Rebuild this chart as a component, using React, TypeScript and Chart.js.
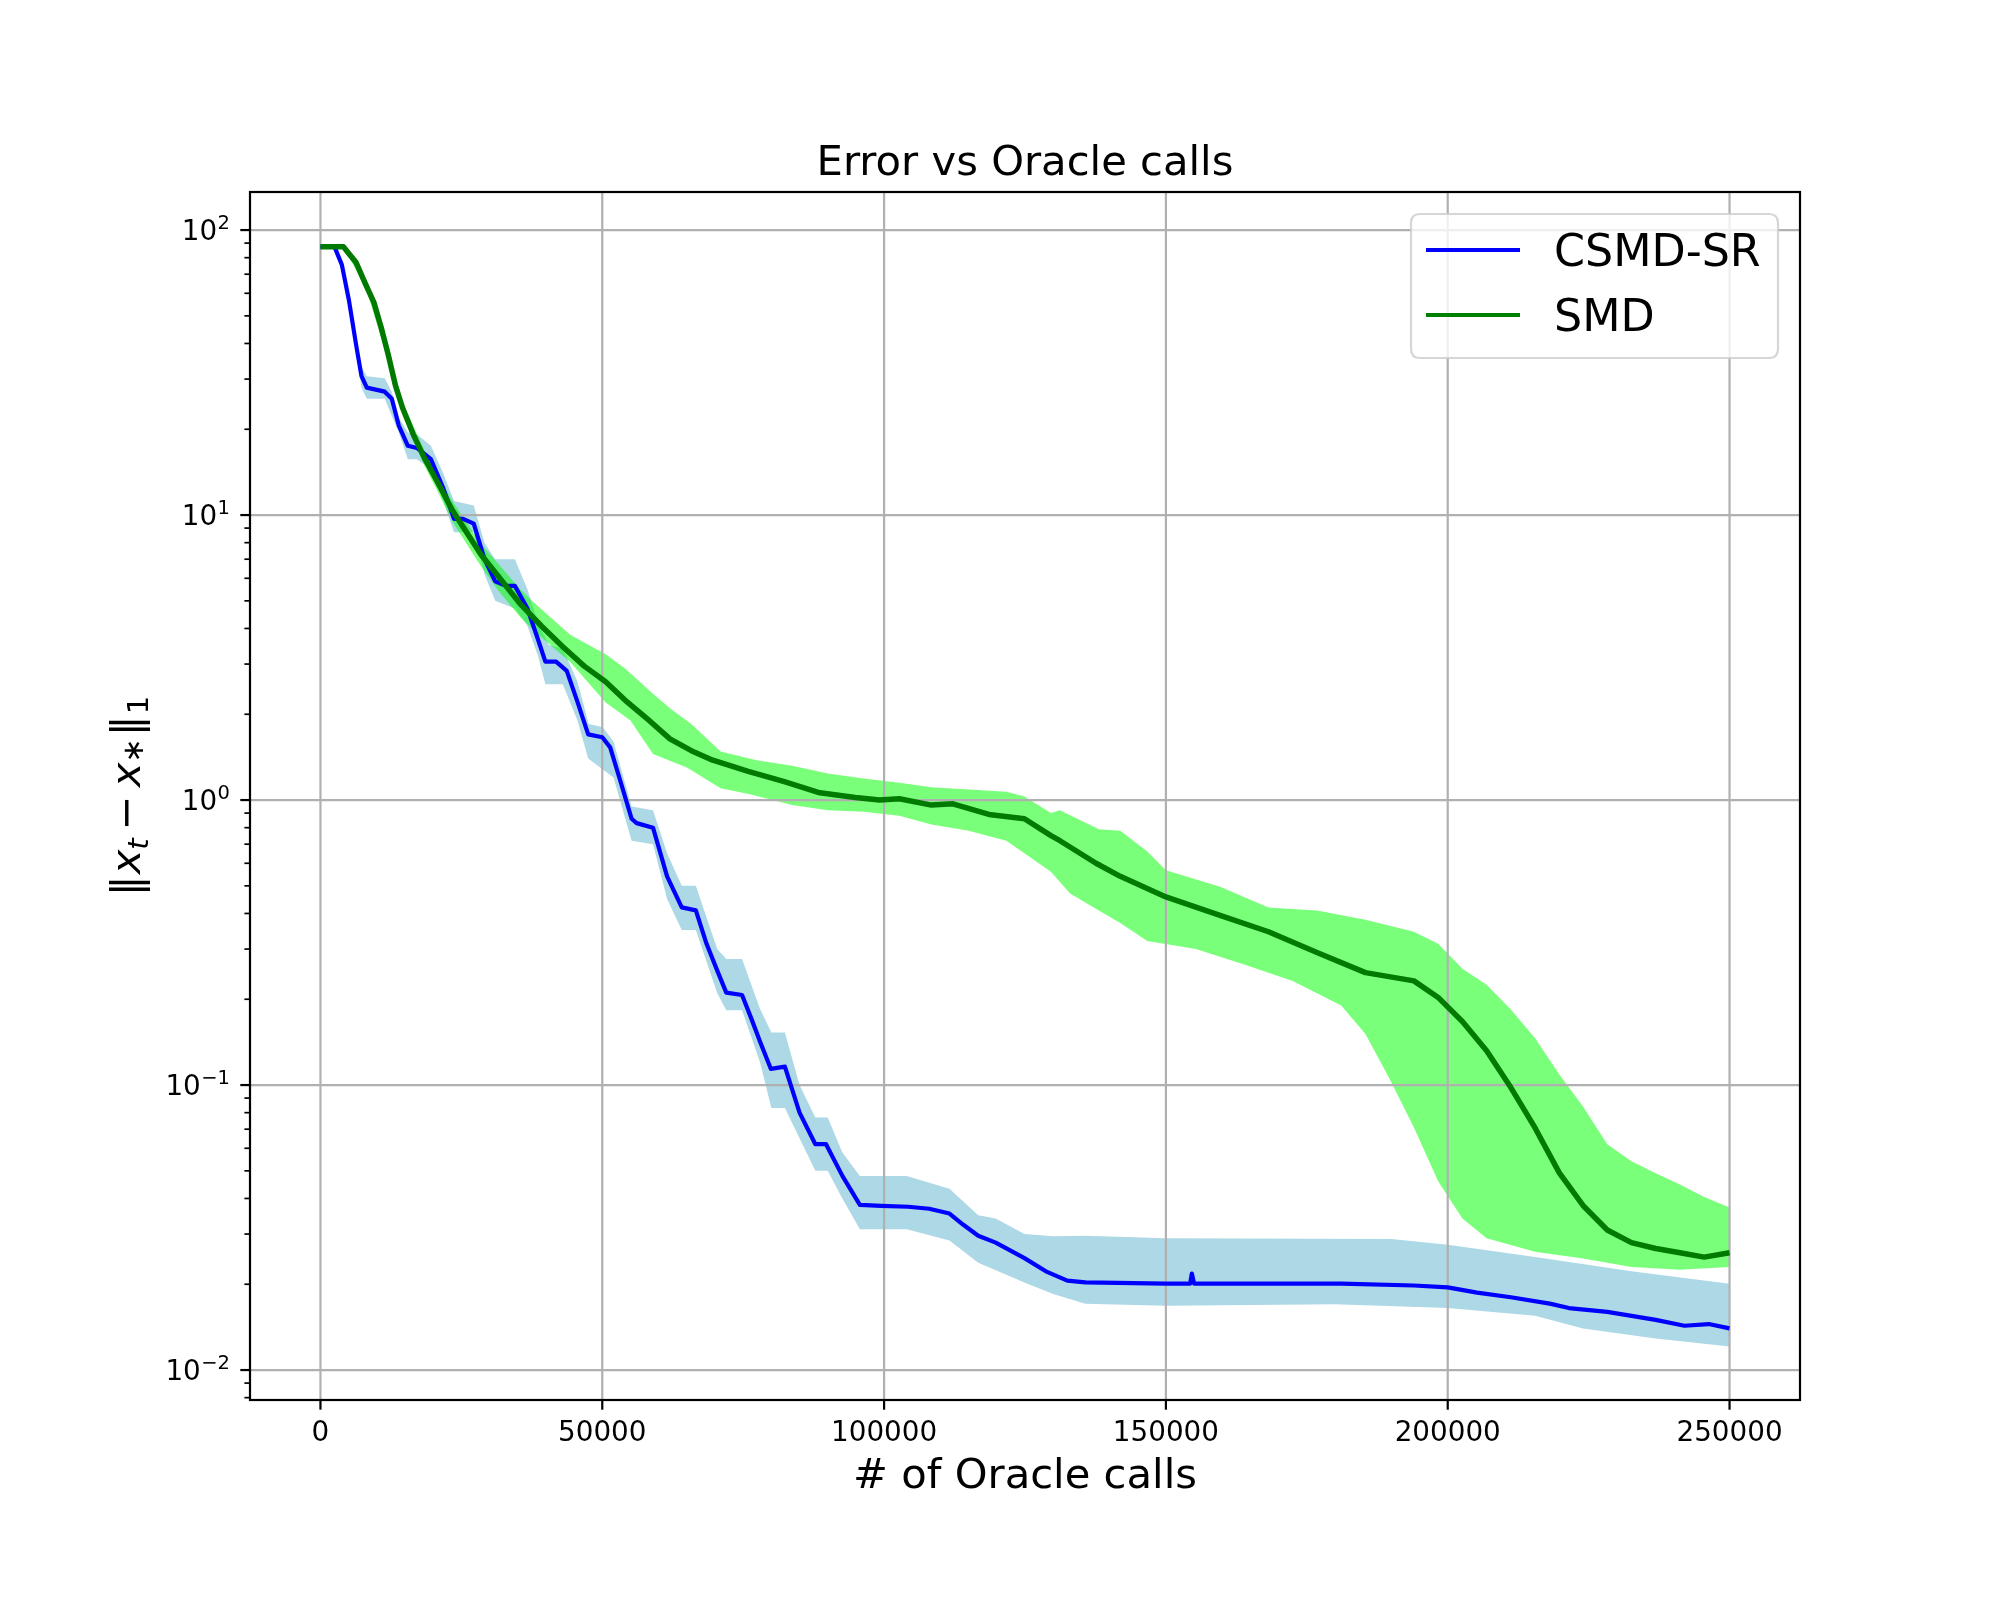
import React, { useEffect, useRef } from 'react';
import { Chart, registerables } from 'chart.js';

Chart.register(...registerables);

// ---------------- data ----------------
const csmdMeanX = [0,2500,3800,5060,6330,7280,8230,11400,12660,13900,15500,17100,19600,21800,23700,25300,27200,29100,31000,32900,34500,36700,38600,39900,41800,43700,45600,47500,50000,51400,53300,55200,56100,59000,61500,64100,66600,68500,70400,72000,74800,76500,78000,79900,82400,85000,87800,89700,92600,95700,99500,104300,108000,111600,114000,116700,119800,124900,128700,132500,135700,150000,154300,154600,155000,181100,194000,200000,205200,211200,218100,221500,228300,236900,242000,246300,250000];
const csmdMean = [87.3,87.3,75.5,56.6,39.5,30.7,28.0,27.1,25.6,20.6,17.5,17.2,15.7,12.4,9.7,9.7,9.33,7.0,5.85,5.64,5.64,4.71,3.66,3.06,3.06,2.84,2.21,1.70,1.66,1.53,1.15,0.86,0.83,0.80,0.54,0.42,0.41,0.313,0.252,0.211,0.207,0.17,0.142,0.114,0.116,0.080,0.062,0.062,0.048,0.038,0.0377,0.0374,0.0368,0.0354,0.0324,0.0296,0.028,0.0247,0.0222,0.0206,0.0203,0.0201,0.0201,0.0218,0.0201,0.0201,0.0198,0.0195,0.0187,0.0180,0.0171,0.0165,0.0160,0.0150,0.0143,0.0145,0.0140];

const csmdUpperX = [0,2500,3800,5060,6330,7280,8230,11400,12660,13900,15500,17100,19600,21800,23700,27200,29100,31000,34500,36700,38600,40500,43000,45600,47600,50100,52000,55200,59000,61500,64100,66600,70400,72000,74800,78000,80000,82400,85000,87800,90000,92600,95700,104000,111600,116700,119800,124900,130000,135700,150000,190000,200000,215500,232600,250000];
const csmdUpper = [87.8,87.8,77,58,41,33,30.7,30.2,27,22,19.5,19.2,17.5,14,11.2,10.8,8.0,7.0,7.0,5.5,4.2,3.5,3.4,2.6,1.85,1.80,1.6,0.95,0.92,0.65,0.50,0.50,0.30,0.277,0.277,0.185,0.153,0.153,0.10,0.077,0.077,0.058,0.048,0.048,0.0433,0.0349,0.034,0.030,0.0295,0.0296,0.029,0.0288,0.0275,0.0249,0.0222,0.0201];

const csmdLowerX = [0,2500,3800,5060,6330,7280,8230,11400,13900,15500,17100,19600,21800,23700,27200,29100,31000,34500,36700,38600,39900,43000,45600,47500,50100,52000,55200,59000,61500,64100,66600,70400,72000,74800,78000,80000,82400,85000,87800,90000,92600,95700,104000,111600,116700,124900,130000,135700,150000,180000,200000,215500,224000,236900,250000];
const csmdLower = [86.8,86.8,74,55,38,28,25.6,25.6,19.5,15.7,15.7,14.5,11.2,8.7,8.7,6.2,5.0,4.7,4.1,3.2,2.55,2.55,1.9,1.40,1.28,1.2,0.72,0.70,0.45,0.35,0.35,0.21,0.183,0.183,0.12,0.083,0.083,0.065,0.050,0.050,0.040,0.0312,0.0312,0.0285,0.0238,0.0203,0.0185,0.0171,0.0168,0.0170,0.0165,0.0155,0.0140,0.0129,0.0121];

const smdMeanX = [0,4100,5060,6330,7900,9500,10760,12000,13300,14560,16460,18350,20900,23400,25950,28500,31650,35400,39200,43000,46800,50600,54400,58200,62000,65800,69600,75900,82300,88600,94900,99200,102700,108400,112200,118600,124900,129600,131200,137600,141900,150000,159600,168200,176800,185400,194000,198300,202600,206900,211200,215500,219800,224000,228300,232600,236900,241200,245500,250000];
const smdMean = [87.3,87.3,82.6,76.9,65.3,55.6,45.6,36.7,28.5,23.8,19.2,16.0,12.9,10.4,8.69,7.26,6.06,4.89,4.08,3.45,2.95,2.6,2.21,1.91,1.64,1.49,1.38,1.26,1.16,1.06,1.02,1.0,1.01,0.96,0.97,0.89,0.86,0.75,0.72,0.60,0.54,0.457,0.394,0.345,0.292,0.248,0.232,0.203,0.167,0.132,0.098,0.0707,0.0492,0.0378,0.031,0.028,0.0267,0.0258,0.0249,0.0258];

const smdUpperX = [0,4100,8000,12000,14560,18350,20900,23400,28500,31650,35400,38000,44300,50600,54000,59000,62000,65800,71000,77400,83700,90000,96400,102700,108400,115000,121700,124900,129600,131200,138100,141900,146700,150000,159600,168200,176800,185400,194000,198300,202600,206900,211200,215500,219800,224000,228300,232600,236900,241200,245500,250000];
const smdUpper = [87.8,87.8,67,38,25,17,13.8,11.2,7.9,6.7,5.5,4.9,3.8,3.25,2.9,2.36,2.1,1.85,1.48,1.38,1.32,1.24,1.19,1.15,1.11,1.09,1.07,1.03,0.90,0.92,0.79,0.78,0.66,0.567,0.496,0.42,0.41,0.38,0.345,0.313,0.256,0.225,0.184,0.146,0.109,0.084,0.062,0.054,0.049,0.0448,0.0405,0.0372];

const smdLowerX = [0,4100,8000,12000,14560,18350,20900,23400,28500,31650,35400,38000,44300,50600,55000,59000,65000,71000,76000,83700,90000,96400,102700,108400,115000,121700,129600,133000,138100,141900,146700,155300,163900,172500,181100,185400,189700,194000,198300,202600,206900,215500,224000,232600,241200,250000];
const smdLower = [86.8,86.8,63,35,22.5,15,12.0,9.5,6.6,5.4,4.4,3.9,3.05,2.2,1.9,1.45,1.3,1.10,1.05,0.96,0.92,0.91,0.88,0.82,0.78,0.72,0.56,0.47,0.41,0.37,0.32,0.30,0.265,0.232,0.19,0.151,0.105,0.071,0.046,0.034,0.029,0.026,0.0246,0.023,0.0225,0.023];

const seriesNames = ['CSMD-SR', 'SMD'];
const xTickValues = [0, 50000, 100000, 150000, 200000, 250000];
const xTickLabels = ['0', '50000', '100000', '150000', '200000', '250000'];
const yMajorValues = [0.01, 0.1, 1, 10, 100];
const yMajorExponents = ['\u22122', '\u22121', '0', '1', '2'];
const yMinorMantissas = [2, 3, 4, 5, 6, 7, 8, 9];
const titleText = 'Error vs Oracle calls';
const xLabelText = '# of Oracle calls';

// ---------------- helpers ----------------
const pts = (xs: number[], ys: number[]) => {
  const n = Math.min(xs.length, ys.length);
  const out: { x: number; y: number }[] = [];
  for (let i = 0; i < n; i++) out.push({ x: xs[i], y: ys[i] });
  return out;
};

const FONT = "'DejaVu Sans', sans-serif";
const BLUE = '#0000ff';
const GREEN = '#007a00';
const LIGHTBLUE = '#add8e6';
const LIGHTGREEN = 'rgba(0,255,0,0.52)';
const GRID = '#b0b0b0';

const mplPlugin = {
  id: 'mplLook',
  beforeDatasetDraw(chart: any, args: any) {
    if (args.index !== 4) return;
    const { ctx, chartArea: a, scales } = chart;
    const x = scales.x;
    const y = scales.y;
    ctx.save();
    ctx.strokeStyle = GRID;
    ctx.lineWidth = 2.2;
    for (const v of xTickValues) {
      const px = x.getPixelForValue(v);
      ctx.beginPath();
      ctx.moveTo(px, a.top);
      ctx.lineTo(px, a.bottom);
      ctx.stroke();
    }
    for (const v of yMajorValues) {
      const py = y.getPixelForValue(v);
      ctx.beginPath();
      ctx.moveTo(a.left, py);
      ctx.lineTo(a.right, py);
      ctx.stroke();
    }
    ctx.restore();
  },
  afterDraw(chart: any) {
    const { ctx, chartArea: a, scales } = chart;
    const x = scales.x;
    const y = scales.y;
    ctx.save();

    // spines
    ctx.strokeStyle = '#000';
    ctx.lineWidth = 2.2;
    ctx.strokeRect(a.left, a.top, a.right - a.left, a.bottom - a.top);

    // x ticks + labels
    ctx.fillStyle = '#000';
    ctx.font = `27.8px ${FONT}`;
    ctx.textAlign = 'center';
    ctx.textBaseline = 'alphabetic';
    xTickValues.forEach((v, i) => {
      const px = x.getPixelForValue(v);
      ctx.lineWidth = 2.2;
      ctx.beginPath();
      ctx.moveTo(px, a.bottom);
      ctx.lineTo(px, a.bottom + 9.7);
      ctx.stroke();
      ctx.fillText(xTickLabels[i], px, a.bottom + 41);
    });

    // y minor ticks
    ctx.lineWidth = 1.7;
    for (const base of [0.001, 0.01, 0.1, 1, 10, 100]) {
      for (const m of yMinorMantissas) {
        const v = base * m;
        if (v < y.min || v > y.max) continue;
        const py = y.getPixelForValue(v);
        ctx.beginPath();
        ctx.moveTo(a.left - 5.6, py);
        ctx.lineTo(a.left, py);
        ctx.stroke();
      }
    }
    // y major ticks + labels (10^k)
    ctx.textAlign = 'left';
    yMajorValues.forEach((v, i) => {
      const py = y.getPixelForValue(v);
      ctx.lineWidth = 2.2;
      ctx.beginPath();
      ctx.moveTo(a.left - 9.7, py);
      ctx.lineTo(a.left, py);
      ctx.stroke();
      const right = a.left - 20;
      ctx.font = `19.5px ${FONT}`;
      const expW = ctx.measureText(yMajorExponents[i]).width;
      ctx.fillText(yMajorExponents[i], right - expW, py - 1);
      ctx.font = `27.8px ${FONT}`;
      const baseW = ctx.measureText('10').width;
      ctx.fillText('10', right - expW - baseW - 0.5, py + 10);
    });

    // title
    const cx = (a.left + a.right) / 2;
    ctx.textAlign = 'center';
    ctx.font = `41.7px ${FONT}`;
    ctx.fillText(titleText, cx, a.top - 17);
    // x label
    ctx.fillText(xLabelText, cx, a.bottom + 88);

    // y label  ||x_t - x_*||_1
    const big = 41.7;
    const small = 29.2;
    const parts = [
      { t: '\u2016', f: `${big}px ${FONT}`, dy: 0, gap: 1 },
      { t: 'x', f: `italic ${big}px ${FONT}`, dy: 0, gap: 0 },
      { t: 't', f: `italic ${small}px ${FONT}`, dy: 8, gap: 8 },
      { t: '\u2212', f: `${big}px ${FONT}`, dy: 0, gap: 8 },
      { t: 'x', f: `italic ${big}px ${FONT}`, dy: 0, gap: 0 },
      { t: '\u2217', f: `${small}px ${FONT}`, dy: 3, gap: 2 },
      { t: '\u2016', f: `${big}px ${FONT}`, dy: 0, gap: 1 },
      { t: '1', f: `${small}px ${FONT}`, dy: 8, gap: 0 },
    ];
    let total = 0;
    const widths = parts.map((p) => {
      ctx.font = p.f;
      const w = ctx.measureText(p.t).width;
      total += w + p.gap;
      return w;
    });
    ctx.save();
    ctx.translate(140, (a.top + a.bottom) / 2);
    ctx.rotate(-Math.PI / 2);
    ctx.textAlign = 'left';
    let cur = -total / 2;
    parts.forEach((p, i) => {
      ctx.font = p.f;
      ctx.fillText(p.t, cur, p.dy);
      cur += widths[i] + p.gap;
    });
    ctx.restore();

    // legend
    const lx = 1411, ly = 214, lw = 367, lh = 144, r = 9;
    ctx.beginPath();
    ctx.moveTo(lx + r, ly);
    ctx.lineTo(lx + lw - r, ly);
    ctx.quadraticCurveTo(lx + lw, ly, lx + lw, ly + r);
    ctx.lineTo(lx + lw, ly + lh - r);
    ctx.quadraticCurveTo(lx + lw, ly + lh, lx + lw - r, ly + lh);
    ctx.lineTo(lx + r, ly + lh);
    ctx.quadraticCurveTo(lx, ly + lh, lx, ly + lh - r);
    ctx.lineTo(lx, ly + r);
    ctx.quadraticCurveTo(lx, ly, lx + r, ly);
    ctx.closePath();
    ctx.fillStyle = 'rgba(255,255,255,0.8)';
    ctx.fill();
    ctx.strokeStyle = 'rgba(204,204,204,0.8)';
    ctx.lineWidth = 2.2;
    ctx.stroke();

    const colors = [BLUE, '#008000'];
    const rowsY = [250, 315];
    ctx.font = `44.4px ${FONT}`;
    ctx.textAlign = 'left';
    seriesNames.forEach((name, i) => {
      ctx.strokeStyle = colors[i];
      ctx.lineWidth = 4.2;
      ctx.beginPath();
      ctx.moveTo(1426, rowsY[i]);
      ctx.lineTo(1520, rowsY[i]);
      ctx.stroke();
      ctx.fillStyle = '#000';
      ctx.fillText(name, 1554, rowsY[i] + 16);
    });

    ctx.restore();
  },
};

export default function App() {
  const ref = useRef<HTMLCanvasElement>(null);
  useEffect(() => {
    if (!ref.current) return;
    const band = (data: any, color: string | null, order: number) => ({
      type: 'line' as const,
      data,
      borderColor: 'rgba(0,0,0,0)',
      borderWidth: 0,
      backgroundColor: color || 'rgba(0,0,0,0)',
      fill: color ? '+1' : false,
      pointRadius: 0,
      tension: 0,
      order,
    });
    const chart = new Chart(ref.current, {
      type: 'line',
      data: {
        datasets: [
          band(pts(csmdUpperX, csmdUpper), LIGHTBLUE, 6),
          band(pts(csmdLowerX, csmdLower), null, 5),
          band(pts(smdUpperX, smdUpper), LIGHTGREEN, 4),
          band(pts(smdLowerX, smdLower), null, 3),
          {
            label: seriesNames[0],
            data: pts(csmdMeanX, csmdMean),
            borderColor: BLUE,
            borderWidth: 4.2,
            pointRadius: 0,
            fill: false,
            tension: 0,
            order: 2,
          },
          {
            label: seriesNames[1],
            data: pts(smdMeanX, smdMean),
            borderColor: GREEN,
            borderWidth: 5.5,
            pointRadius: 0,
            fill: false,
            tension: 0,
            order: 1,
          },
        ] as any,
      },
      options: {
        animation: false,
        responsive: false,
        devicePixelRatio: 1,
        layout: { padding: { left: 0, right: 200, top: 192, bottom: 0 } },
        plugins: {
          legend: { display: false },
          title: { display: false },
          tooltip: { enabled: false },
        },
        elements: { line: { borderJoinStyle: 'round', borderCapStyle: 'butt' } },
        scales: {
          x: {
            type: 'linear',
            min: -12500,
            max: 262500,
            ticks: { display: false },
            grid: { display: false },
            border: { display: false },
            afterFit: (s: any) => {
              s.height = 200;
            },
          },
          y: {
            type: 'logarithmic',
            min: 0.00785,
            max: 136,
            ticks: { display: false },
            grid: { display: false },
            border: { display: false },
            afterFit: (s: any) => {
              s.width = 250;
            },
          },
        },
      } as any,
      plugins: [mplPlugin as any],
    });
    return () => chart.destroy();
  }, []);
  return (
    <div style={{ position: 'absolute', left: 0, top: 0, width: 2000, height: 1600, background: '#fff', overflow: 'hidden' }}>
      <canvas ref={ref} width={2000} height={1600} style={{ width: 2000, height: 1600, display: 'block' }} />
    </div>
  );
}
